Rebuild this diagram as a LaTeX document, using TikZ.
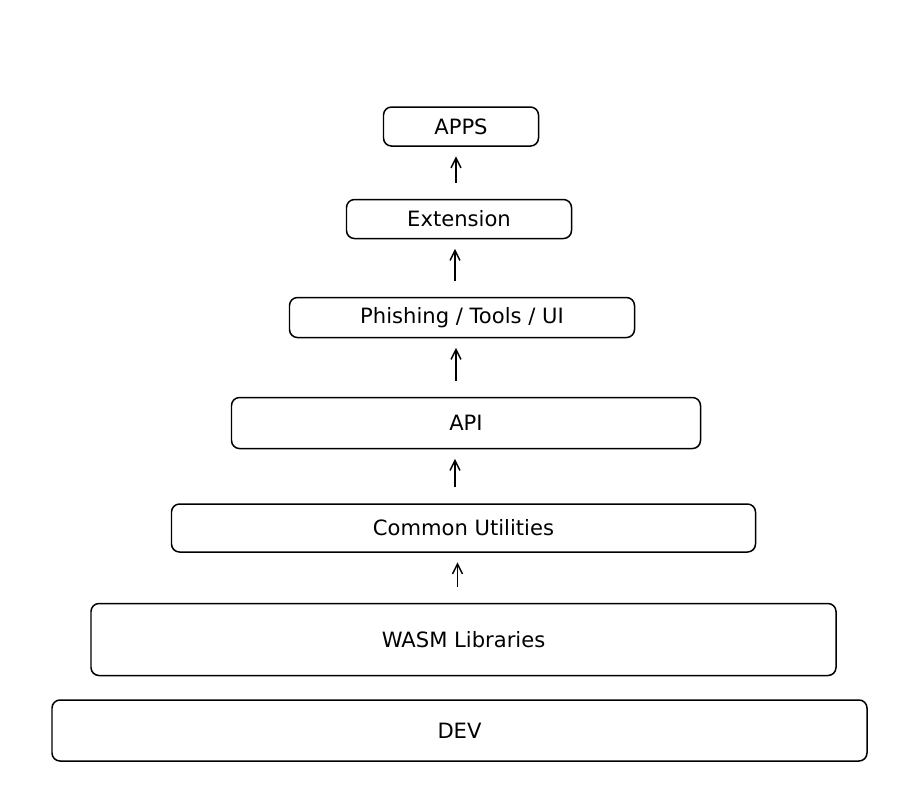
\documentclass[tikz,border=0pt]{standalone}
\usepackage{fontspec}
\setmainfont{DejaVu Sans}
\usepackage{tikz}
\usetikzlibrary{positioning, arrows.meta}

\begin{document}
\begin{tikzpicture}[
    layer/.style={rectangle, draw, rounded corners=0.16cm, line width=0.85pt, inner sep=0pt, align=center, font=\fontsize{12}{14}\selectfont},
    uplink/.style={-{Straight Barb[length=2mm, width=2mm]}, line width=0.85pt, shorten <=0.32cm, shorten >=0.19cm}
]
\useasboundingbox (0,0) rectangle (18.32,-15.7);

% Base layers
\node[layer, minimum width=16.3cm, minimum height=1.22cm] (dev) at (9.19,-14.61) {DEV};
\node[layer, minimum width=14.9cm, minimum height=1.44cm, above=0.46cm of dev, xshift=0.08cm] (wasm) {WASM Libraries};

% Stack on top
\node[layer, minimum width=11.68cm, minimum height=0.96cm, above=1.0cm of wasm] (utils) {Common Utilities};
\node[layer, minimum width=9.38cm, minimum height=1.02cm, above=1.08cm of utils, xshift=0.05cm] (api) {API};
\node[layer, minimum width=6.9cm, minimum height=0.8cm, above=1.17cm of api, xshift=-0.08cm] (tools) {Phishing / Tools / UI};
\node[layer, minimum width=4.5cm, minimum height=0.78cm, above=1.15cm of tools, xshift=-0.06cm] (ext) {Extension};
\node[layer, minimum width=3.1cm, minimum height=0.78cm, above=1.04cm of ext, xshift=0.04cm] (apps) {APPS};

% Arrows
\draw[uplink] (wasm.north -| 9.15,0) -- (utils.south -| 9.15,0);
\draw[uplink] (utils.north -| 9.1,0) -- (api.south -| 9.1,0);
\draw[uplink] (api.north -| 9.12,0) -- (tools.south -| 9.12,0);
\draw[uplink] (tools.north -| 9.1,0) -- (ext.south -| 9.1,0);
\draw[uplink] (ext.north -| 9.12,0) -- (apps.south -| 9.12,0);

\end{tikzpicture}
\end{document}
